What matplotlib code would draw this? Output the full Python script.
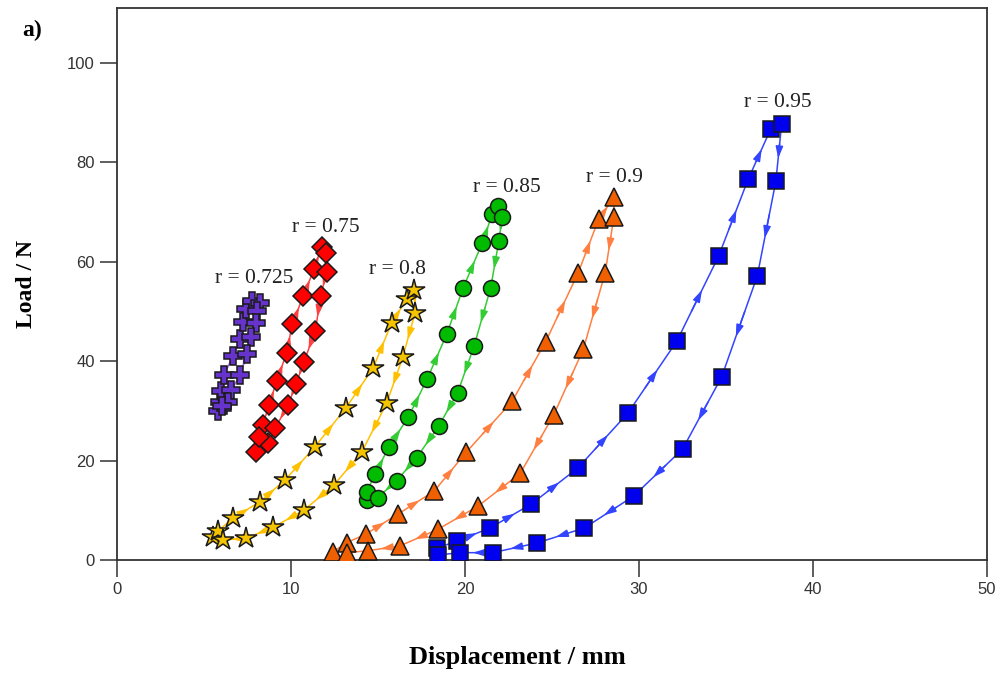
import matplotlib.pyplot as plt
from matplotlib.patches import FancyArrowPatch

# Data: each loop = loading branch (up) then unloading branch (down)
r_labels = ['r = 0.725', 'r = 0.75', 'r = 0.8', 'r = 0.85', 'r = 0.9', 'r = 0.95']

x_0725 = [5.80, 5.90, 5.99, 6.15, 6.67, 7.07, 7.26, 7.44, 7.78,
          8.20, 8.05, 7.97, 7.73, 7.47, 7.07, 6.58, 6.38, 6.03]
y_0725 = [29.95, 31.82, 33.97, 37.19, 41.01, 44.42, 47.84, 50.39, 52.06,
          51.60, 50.05, 47.74, 44.92, 41.41, 37.19, 34.17, 31.82, 30.95]

x_075 = [7.99, 8.37, 8.75, 9.18, 9.75, 10.07, 10.71, 11.32, 11.76,
         12.01, 12.05, 11.71, 11.40, 10.75, 10.29, 9.84, 9.08, 8.70, 8.18]
y_075 = [21.77, 27.14, 31.16, 36.04, 41.55, 47.38, 53.07, 58.43, 62.98,
         61.65, 57.95, 53.07, 46.09, 39.86, 35.38, 31.16, 26.47, 23.46, 24.78]

x_08 = [5.53, 5.82, 6.65, 8.22, 9.66, 11.38, 13.14, 14.73, 15.79, 16.65, 17.09,
        17.14, 16.42, 15.50, 14.06, 12.47, 10.76, 8.98, 7.41, 6.07]
y_08 = [4.68, 5.83, 8.38, 11.72, 16.08, 22.77, 30.49, 38.65, 47.70, 52.40, 54.27,
        49.71, 40.74, 31.50, 21.65, 15.08, 10.05, 6.57, 4.36, 4.02]

x_085 = [14.35, 14.35, 14.84, 15.63, 16.74, 17.82, 18.95, 19.90, 21.00, 21.57, 21.91,
         22.14, 21.95, 21.48, 20.53, 19.58, 18.49, 17.22, 16.07, 14.98]
y_085 = [12.06, 13.73, 17.23, 22.77, 28.68, 36.32, 45.37, 54.73, 63.78, 69.55, 71.16,
         69.00, 64.18, 54.73, 43.08, 33.63, 26.93, 20.56, 15.94, 12.52]

x_09 = [12.43, 13.20, 14.29, 16.13, 18.24, 20.07, 22.72, 24.64, 26.51, 27.68, 28.56,
        28.56, 28.06, 26.80, 25.10, 23.18, 20.76, 18.45, 16.25, 14.44, 13.24]
y_09 = [1.67, 3.48, 5.17, 9.19, 13.87, 21.65, 31.96, 43.88, 57.75, 68.48, 72.90,
        69.00, 57.75, 42.35, 29.15, 17.43, 10.85, 6.17, 2.81, 1.87, 1.47]

x_095 = [18.41, 19.56, 21.44, 23.82, 26.49, 29.37, 32.18, 34.58, 36.28, 37.57, 38.20,
         37.87, 36.80, 34.75, 32.51, 29.70, 26.86, 24.14, 21.59, 19.71, 18.47]
y_095 = [2.41, 3.82, 6.43, 11.26, 18.49, 29.55, 44.02, 61.10, 76.58, 86.63, 87.64,
         76.18, 57.09, 36.78, 22.31, 12.86, 6.43, 3.42, 1.47, 1.47, 1.00]

label_x = [7.9, 12.0, 16.1, 22.4, 28.6, 38.0]
label_y = [56.5, 66.8, 58.5, 74.8, 77.0, 92.0]

series = [
    (x_0725, y_0725, 'P', '#6633CC', '#9966EE', 12.5),
    (x_075, y_075, 'D', '#FF0000', '#FF4040', 10.5),
    (x_08, y_08, '*', '#F5C400', '#FFC000', 16),
    (x_085, y_085, 'o', '#00BB00', '#33CC33', 11.5),
    (x_09, y_09, '^', '#F06000', '#FF7F40', 13),
    (x_095, y_095, 's', '#0000EE', '#3344FF', 11.5),
]

fig = plt.figure(figsize=(10.04, 6.8), dpi=100)
ax = fig.add_axes([0.1165, 0.1765, 0.8665, 0.8118])
ax.set_xlim(0, 50)
ax.set_ylim(0, 111)

for xs, ys, mk, fc, lc, ms in series:
    ax.plot(xs, ys, '-', color=lc, lw=1.1, zorder=2)
    # arrowheads in the middle of each segment
    for i in range(len(xs) - 1):
        p1 = ax.transData.transform((xs[i], ys[i]))
        p2 = ax.transData.transform((xs[i + 1], ys[i + 1]))
        if ((p2 - p1) ** 2).sum() ** 0.5 < 22:
            continue
        xa = xs[i] + 0.35 * (xs[i + 1] - xs[i])
        ya = ys[i] + 0.35 * (ys[i + 1] - ys[i])
        xb = xs[i] + 0.6 * (xs[i + 1] - xs[i])
        yb = ys[i] + 0.6 * (ys[i + 1] - ys[i])
        ax.add_patch(FancyArrowPatch((xa, ya), (xb, yb),
                                     arrowstyle='-|>,head_length=0.7,head_width=0.22',
                                     mutation_scale=10, color=lc, lw=1.1,
                                     shrinkA=0, shrinkB=0, zorder=2))
    ax.plot(xs, ys, linestyle='none', marker=mk, ms=ms, mfc=fc,
            mec='#1a1a1a', mew=1.1, zorder=3)

for txt, lx, ly in zip(r_labels, label_x, label_y):
    ax.text(lx, ly, txt, ha='center', va='center', fontsize=15.5,
            family='Liberation Serif', color='#222222')

ax.set_xticks([0, 10, 20, 30, 40, 50])
ax.set_yticks([0, 20, 40, 60, 80, 100])
ax.tick_params(direction='out', length=12, width=1.1, color='#333333',
               labelsize=12, labelcolor='#333333', pad=4)
for lab in ax.get_xticklabels() + ax.get_yticklabels():
    lab.set_family('Liberation Sans')
for s in ax.spines.values():
    s.set_linewidth(1.3)
    s.set_color('#333333')

ax.set_xlabel('Displacement / mm', fontsize=19, fontweight='bold',
              family='Liberation Serif')
ax.xaxis.set_label_coords(0.46, -0.155)
ax.set_ylabel('Load / N', fontsize=17, fontweight='bold',
              family='Liberation Serif')
ax.yaxis.set_label_coords(-0.092, 0.5)
fig.text(0.022, 0.955, 'a)', fontsize=17, fontweight='bold',
         family='Liberation Serif', va='center')

fig.savefig('out.png', dpi=100)
